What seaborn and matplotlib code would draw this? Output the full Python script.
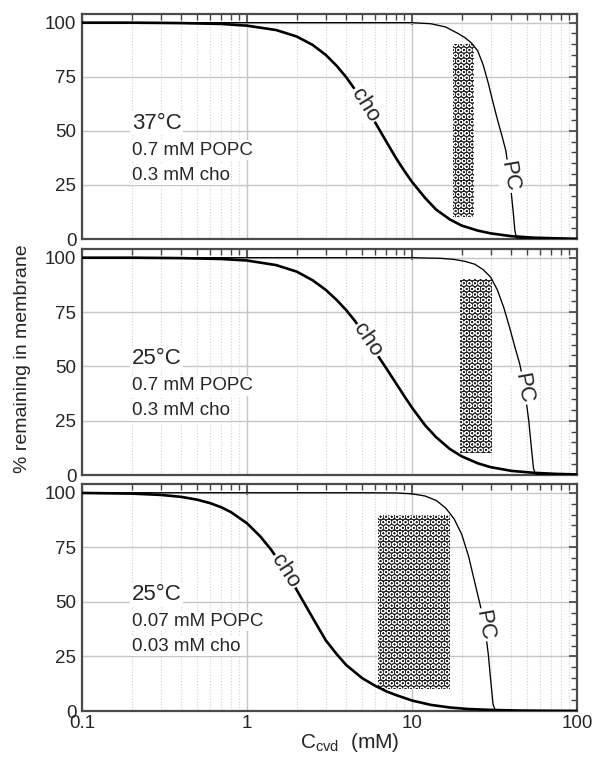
import numpy as np
import pandas as pd
import seaborn as sns
import matplotlib.pyplot as plt
from matplotlib.ticker import LogLocator, FixedLocator, FixedFormatter, MultipleLocator, NullFormatter

# ---- data (C_cvd in mM, % remaining in membrane) ----
# panel 1: 37 C, 0.7 mM POPC / 0.3 mM cho
cho_x_1 = [0.1, 0.2, 0.4, 0.7, 1, 1.5, 2, 2.5, 3, 3.5, 4, 4.5, 5, 5.5, 6, 7, 8, 9, 10, 12, 14, 17, 20, 25, 30, 40, 55, 75, 100]
cho_y_1 = [100, 100, 99.8, 99.4, 98.6, 96.6, 93.6, 89.7, 85.1, 80.0, 74.7, 69.2, 63.8, 58.7, 53.7, 44.9, 37.4, 31.4, 26.4, 19.0, 13.6, 9.0, 6.2, 3.9, 2.6, 1.3, 0.6, 0.3, 0.1]
pc_x_1 = [0.1, 5, 10, 13, 16, 19, 21, 23, 25, 27, 29, 31, 33, 35, 37, 38, 39, 40, 41, 42, 43, 50, 100]
pc_y_1 = [100, 100, 100, 99.5, 98, 95, 93, 90.5, 87, 80.5, 72, 63, 55, 48, 41, 35, 29, 21, 13, 4, 0.5, 0.1, 0]

# panel 2: 25 C, 0.7 mM POPC / 0.3 mM cho
cho_x_2 = [0.1, 0.2, 0.4, 0.7, 1, 1.5, 2, 2.5, 3, 3.5, 4, 4.5, 5, 5.5, 6, 7, 8, 9, 10, 12, 14, 17, 20, 25, 30, 40, 55, 75, 100]
cho_y_2 = [100, 100, 99.8, 99.4, 98.7, 96.6, 93.6, 89.6, 85.2, 80.5, 75.8, 71.0, 66.0, 61.2, 56.6, 49.0, 42.2, 36.2, 31.0, 22.9, 17.4, 11.9, 8.6, 5.4, 3.6, 1.9, 1.0, 0.5, 0.25]
pc_x_2 = [0.1, 5, 10, 15, 18, 21, 24, 27, 30, 33, 36, 39, 42, 45, 47, 49, 51, 53, 54.5, 56, 60, 100]
pc_y_2 = [100, 100, 100, 99.7, 99.2, 98.3, 97, 94.5, 91, 85, 77, 68, 59, 51, 44, 35, 25, 12, 3, 0.5, 0.1, 0]

# panel 3: 25 C, 0.07 mM POPC / 0.03 mM cho
cho_x_3 = [0.1, 0.2, 0.3, 0.4, 0.5, 0.6, 0.7, 0.8, 1, 1.2, 1.4, 1.6, 1.8, 2, 2.2, 2.5, 3, 3.5, 4, 5, 6, 7, 8, 10, 13, 17, 22, 30, 45, 70, 100]
cho_y_3 = [99.9, 99.6, 99.0, 98.1, 96.8, 95.2, 93.3, 91.1, 86.0, 80.1, 73.9, 67.5, 61.3, 55.5, 50.0, 42.7, 32.4, 26.0, 21.0, 15.0, 11.5, 9.0, 7.3, 4.8, 2.8, 1.6, 0.9, 0.5, 0.2, 0.1, 0.05]
pc_x_3 = [0.1, 5, 8, 10, 12, 14, 16, 18, 20, 22, 24, 26, 28, 29, 30, 31, 32, 40, 100]
pc_y_3 = [100, 100, 99.9, 99.5, 98.5, 96.5, 93, 88, 81, 71, 59, 48, 35, 26, 14, 3, 0.3, 0.1, 0]

# hatched ranges (x from, x to) and their vertical extent
box_x = [[17.7, 23.8], [19.5, 30.5], [6.2, 17.0]]
box_y = [10, 90]

temps = ['37°C', '25°C', '25°C']
popc_txt = ['0.7 mM POPC', '0.7 mM POPC', '0.07 mM POPC']
chol_txt = ['0.3 mM cho', '0.3 mM cho', '0.03 mM cho']

curves = [(cho_x_1, cho_y_1, pc_x_1, pc_y_1),
          (cho_x_2, cho_y_2, pc_x_2, pc_y_2),
          (cho_x_3, cho_y_3, pc_x_3, pc_y_3)]

rows = []
for p, (cx, cy, px, py) in enumerate(curves):
    rows += [(p, 'cho', a, b) for a, b in zip(cx, cy)]
    rows += [(p, 'PC', a, b) for a, b in zip(px, py)]
df = pd.DataFrame(rows, columns=['panel', 'lipid', 'conc', 'pct'])

# label placement on the curves: (x, y, rotation)
cho_lab = [(5.2, 62, -58), (5.37, 62, -56), (1.70, 64, -57)]
pc_lab = [(38.8, 29, -80), (47.5, 40, -80), (27.3, 39.5, -80)]

sns.set_style('white')
plt.rcParams['font.family'] = ['Liberation Sans', 'DejaVu Sans']
plt.rcParams['mathtext.default'] = 'regular'
plt.rcParams['hatch.linewidth'] = 0.6

fig = plt.figure(figsize=(5.96, 7.72), dpi=100)
left, width = 82 / 596, 495 / 596
boxes = [(239, 225), (475, 226), (711, 227)]

for p in range(3):
    bot, h = boxes[p]
    ax = fig.add_axes([left, 1 - bot / 772, width, h / 772])
    ax.set_xscale('log')

    sub = df[df.panel == p]
    sns.lineplot(data=sub, x='conc', y='pct', size='lipid', sizes={'cho': 1.9, 'PC': 0.95},
                 color='black', estimator=None, sort=False, legend=False, ax=ax, zorder=3)

    ax.fill_between(box_x[p], box_y[0], box_y[1], facecolor='#222222', edgecolor='white',
                    hatch='OOO', linewidth=0, zorder=2)

    ax.set_xlim(0.1, 100)
    ax.set_ylim(0, 104)
    ax.set_xlabel('')
    ax.set_ylabel('')

    ax.xaxis.set_major_locator(FixedLocator([0.1, 1, 10, 100]))
    ax.xaxis.set_minor_locator(LogLocator(base=10, subs=np.arange(2, 10)))
    ax.xaxis.set_minor_formatter(NullFormatter())
    if p == 2:
        ax.xaxis.set_major_formatter(FixedFormatter(['0.1', '1', '10', '100']))
    else:
        ax.xaxis.set_major_formatter(NullFormatter())
    ax.yaxis.set_major_locator(FixedLocator([0, 25, 50, 75, 100]))
    ax.yaxis.set_minor_locator(MultipleLocator(5))

    ax.grid(which='major', color='#c6c6c6', lw=1.0, zorder=0)
    ax.grid(which='minor', axis='x', color='#cfcfcf', lw=0.8, ls=':', zorder=0)
    ax.set_axisbelow(True)

    ax.tick_params(axis='both', which='both', direction='in', top=True, right=True,
                   color='#444444', labelsize=13.5)
    ax.tick_params(axis='x', which='major', length=8, width=1.2, pad=3)
    ax.tick_params(axis='x', which='minor', length=4, width=1)
    ax.tick_params(axis='y', which='major', length=6, width=1.2, pad=4)
    ax.tick_params(axis='y', which='minor', length=4, width=1)
    for s in ax.spines.values():
        s.set_color('#4a4a4a')
        s.set_linewidth(1.6)

    # condition labels
    wb = dict(facecolor='white', edgecolor='none', pad=1.0)
    ax.text(0.2, 53.5, temps[p], fontsize=16, va='center', ha='left', bbox=wb, zorder=4)
    ax.text(0.2, 41, popc_txt[p], fontsize=13.5, va='center', ha='left', bbox=wb, zorder=4)
    ax.text(0.2, 29.5, chol_txt[p], fontsize=13.5, va='center', ha='left', bbox=wb, zorder=4)

    # curve labels
    x, y, r = cho_lab[p]
    ax.text(x, y, 'cho', fontsize=16, rotation=r, rotation_mode='anchor', ha='center', va='center',
            bbox=dict(facecolor='white', edgecolor='none', pad=1.0), zorder=5)
    x, y, r = pc_lab[p]
    ax.text(x, y, 'PC', fontsize=16, rotation=r, rotation_mode='anchor', ha='center', va='center',
            bbox=dict(facecolor='white', edgecolor='none', pad=1.0), zorder=5)

fig.text(0.038, 0.535, '% remaining in membrane', rotation=90, ha='center', va='center', fontsize=14)
fig.text(0.586, 0.038, 'C$_{cvd}$  (mM)', ha='center', va='center', fontsize=15)

fig.savefig('out.png', dpi=100)
